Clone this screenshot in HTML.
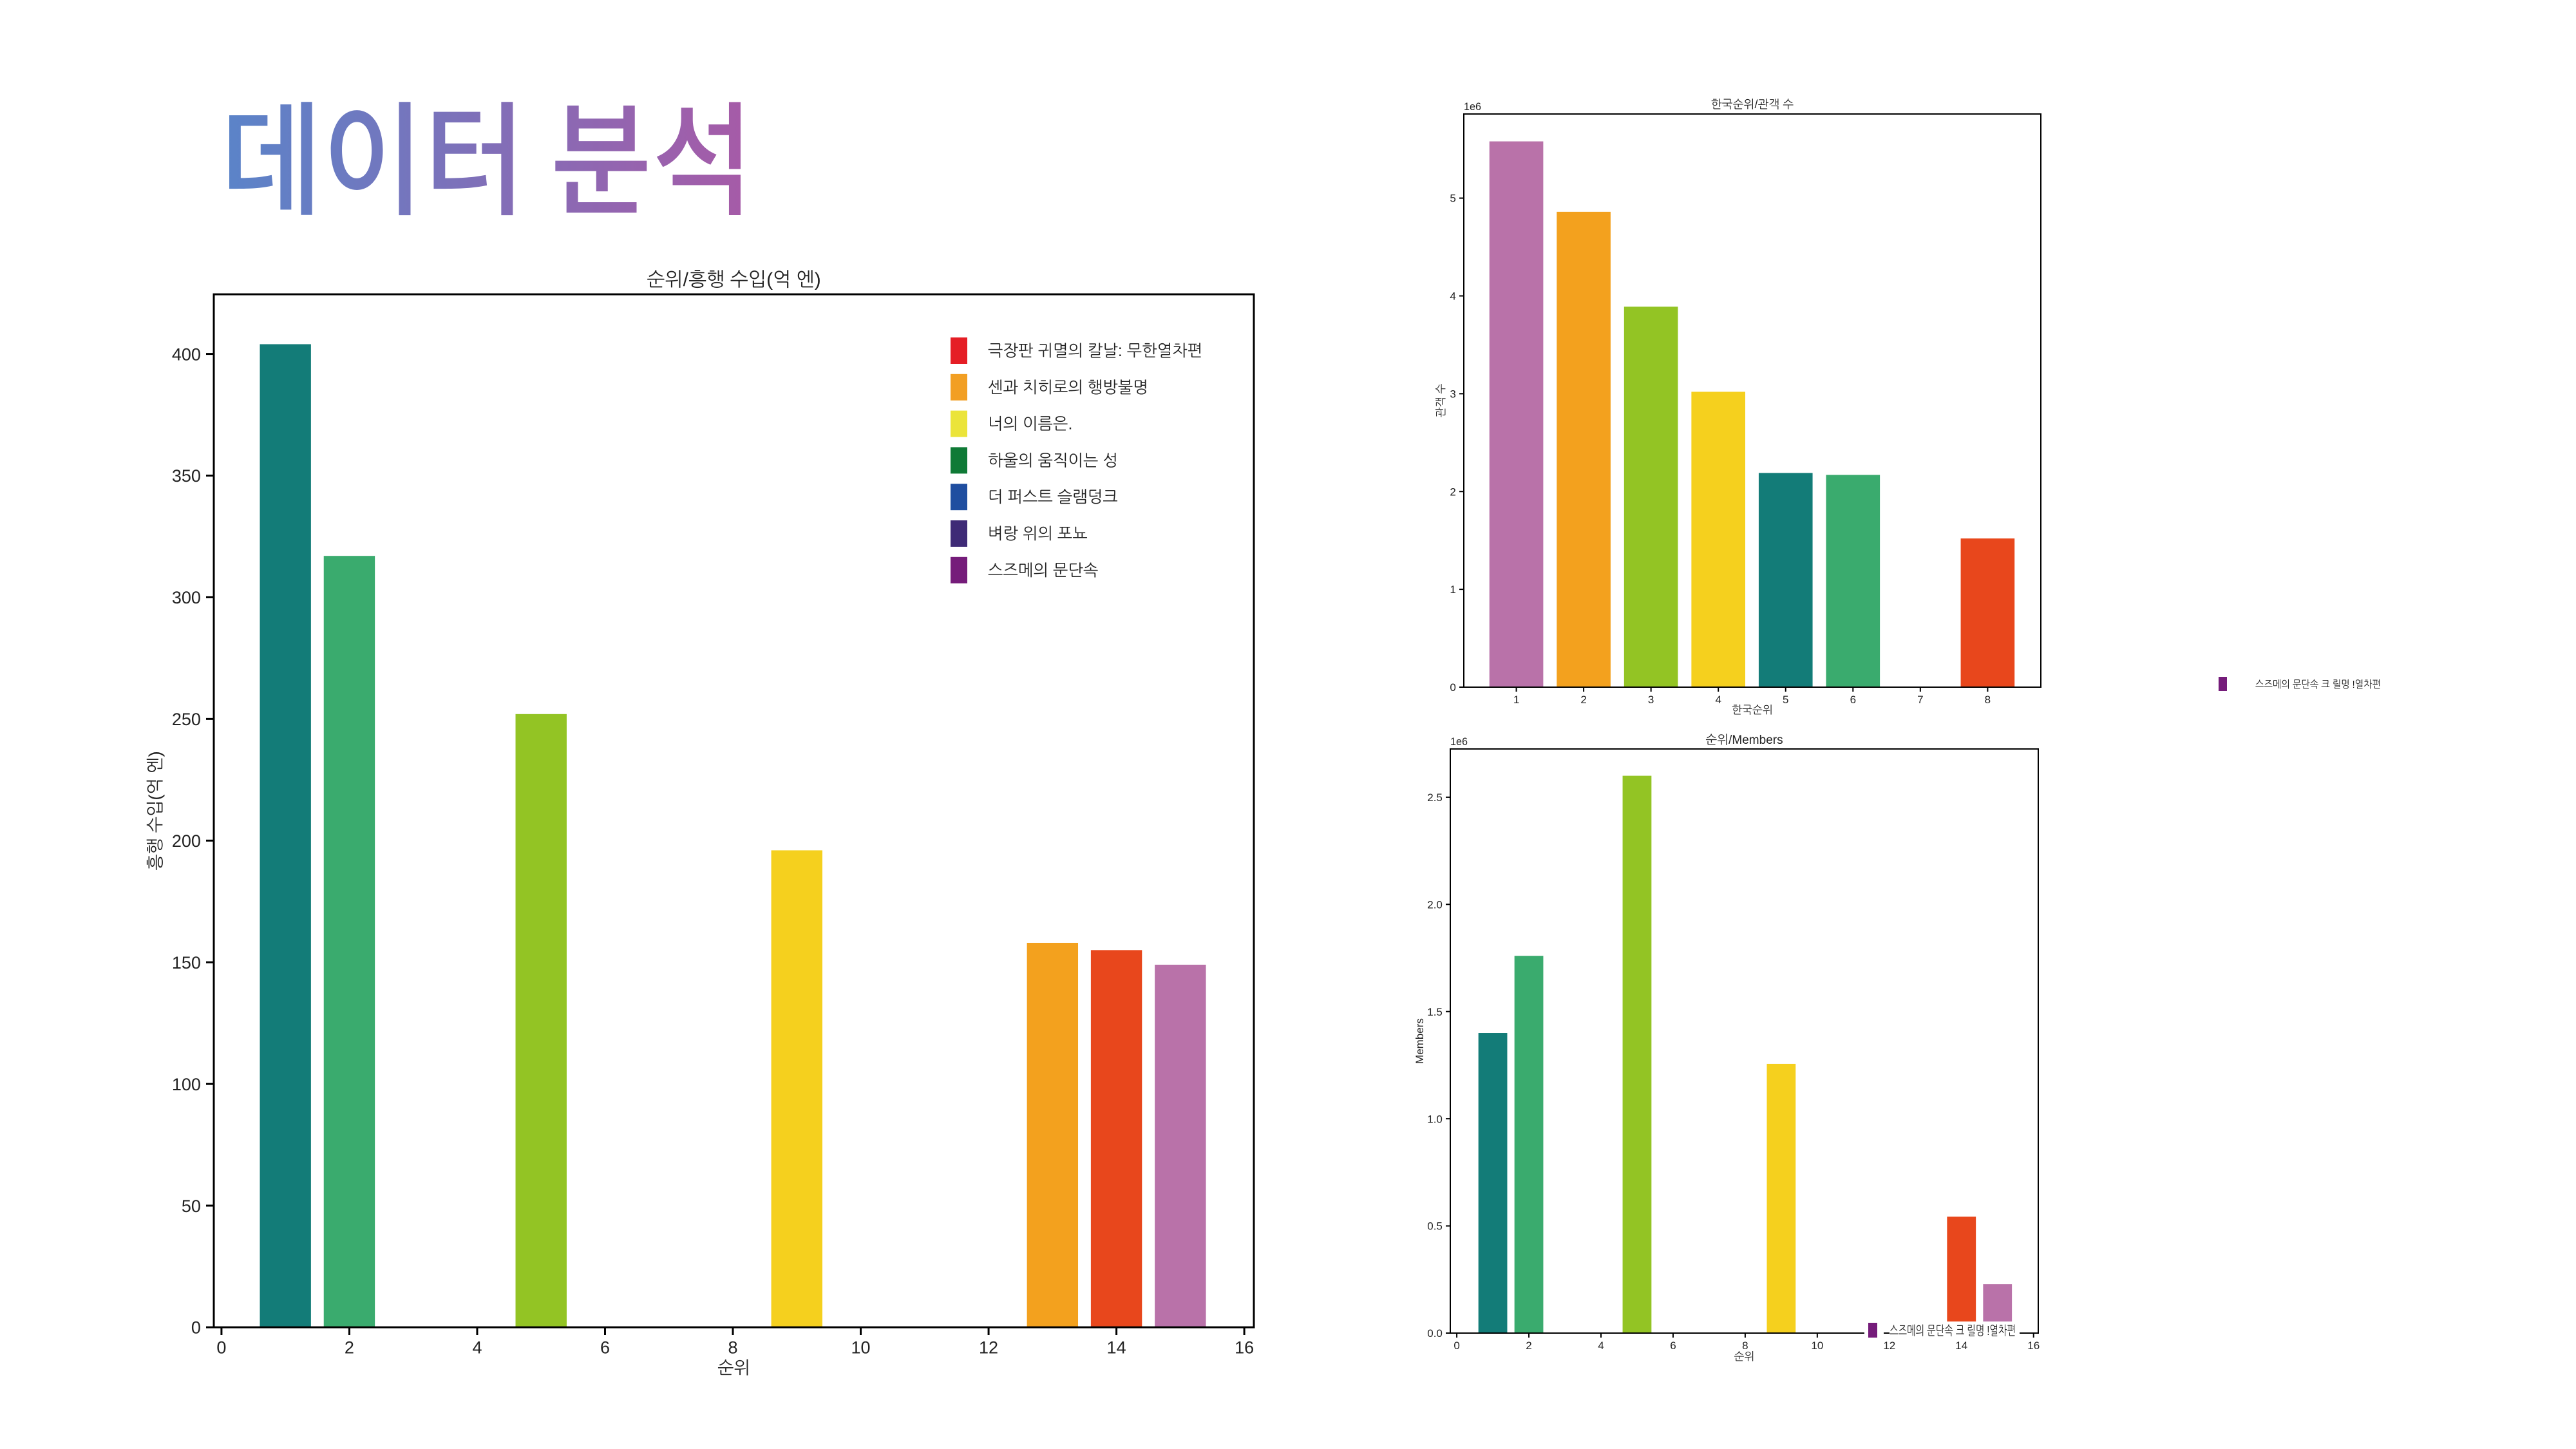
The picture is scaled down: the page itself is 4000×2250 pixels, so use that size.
<!DOCTYPE html>
<html><head><meta charset="utf-8"><style>
html,body{margin:0;padding:0;background:#fff;}
svg{display:block;font-family:"Liberation Sans","NanumGothic","Noto Sans CJK KR",sans-serif;}
</style></head><body>
<svg id="root" width="4000" height="2250" viewBox="0 0 4000 2250" xmlns="http://www.w3.org/2000/svg">
<defs><linearGradient id="tg" x1="0" x2="1" y1="0" y2="0"><stop offset="0" stop-color="#5a84c9"/><stop offset="1" stop-color="#a75aa7"/></linearGradient></defs>
<rect width="4000" height="2250" fill="#fff"/>
<text x="343" y="318" font-size="192" font-weight="500" fill="url(#tg)" textLength="827" lengthAdjust="spacingAndGlyphs" style="font-family:'Noto Sans CJK KR','NanumGothic',sans-serif">데이터 분석</text>
<g id="c1"></g>
<g id="c2"></g>
<g id="c3"></g>
</svg>
<script>
// Chart 1: 순위 / 흥행 수입
const c1Ranks = [1, 2, 5, 9, 13, 14, 15];
const c1Values = [404, 317, 252, 196, 158, 155, 149];
const c1Colors = ['#137c78', '#3aab6e', '#93c424', '#f5d01e', '#f3a11e', '#e8471c', '#b972a9'];
const c1XTicks = [0, 2, 4, 6, 8, 10, 12, 14, 16];
const c1YTicks = [0, 50, 100, 150, 200, 250, 300, 350, 400];
const c1LegendLabels = ['극장판 귀멸의 칼날: 무한열차편', '센과 치히로의 행방불명', '너의 이름은.', '하울의 움직이는 성', '더 퍼스트 슬램덩크', '벼랑 위의 포뇨', '스즈메의 문단속'];
const c1LegendColors = ['#e51e25', '#f29f23', '#ebe43a', '#0f7a36', '#1f4ea0', '#3e2a76', '#751c7a'];

// Chart 2: 한국순위 / 관객 수 (x1e6)
const c2Ranks = [1, 2, 3, 4, 5, 6, 7, 8];
const c2Values = [5.58, 4.86, 3.89, 3.02, 2.19, 2.17, 0, 1.52];
const c2Colors = ['#b972a9', '#f3a11e', '#93c424', '#f5d01e', '#137c78', '#3aab6e', '#751c7a', '#e8471c'];
const c2XTicks = [1, 2, 3, 4, 5, 6, 7, 8];
const c2YTicks = [0, 1, 2, 3, 4, 5];

// Chart 3: 순위 / Members (x1e6)
const c3Ranks = [1, 2, 5, 9, 14, 15];
const c3Values = [1.40, 1.76, 2.60, 1.256, 0.543, 0.228];
const c3Colors = ['#137c78', '#3aab6e', '#93c424', '#f5d01e', '#e8471c', '#b972a9'];
const c3XTicks = [0, 2, 4, 6, 8, 10, 12, 14, 16];
const c3YTicks = [0, 0.5, 1.0, 1.5, 2.0, 2.5];
const c3YTickLabels = ['0.0', '0.5', '1.0', '1.5', '2.0', '2.5'];

const NS = 'http://www.w3.org/2000/svg';
function mk(parent, tag, attrs, txt) {
  const e = document.createElementNS(NS, tag);
  for (const k in attrs) e.setAttribute(k, attrs[k]);
  if (txt !== undefined) e.textContent = txt;
  parent.appendChild(e);
  return e;
}
function chart(g, o) {
  const sx = v => o.L + (v - o.x0) / (o.x1 - o.x0) * (o.R - o.L);
  const sy = v => o.B - (v - o.y0) / (o.y1 - o.y0) * (o.B - o.T);
  o.ranks.forEach((r, i) => {
    if (o.values[i] <= 0) return;
    const x = sx(r - 0.4), w = sx(r + 0.4) - x;
    const rc = mk(g, 'rect', {x: x, y: sy(o.values[i]), width: w, height: sy(0) - sy(o.values[i]), fill: o.colors[i]});
    
    
  });
  const frame = mk(g, 'rect', {x: o.L, y: o.T, width: o.R - o.L, height: o.B - o.T, fill: 'none', stroke: '#000', 'stroke-width': o.sw});
  
  
  o.xt.forEach((v, i) => {
    const x = sx(v);
    const tk = mk(g, 'line', {x1: x, x2: x, y1: o.B, y2: o.B + o.tl, stroke: '#000', 'stroke-width': o.sw});
    
    
    const t = mk(g, 'text', {x: x, y: o.B + o.tl + o.fs * 1.05, 'font-size': o.fs, 'text-anchor': 'middle', fill: '#222'}, String(v));
    
    
  });
  o.yt.forEach((v, i) => {
    const y = sy(v);
    const tk = mk(g, 'line', {x1: o.L - o.tl, x2: o.L, y1: y, y2: y, stroke: '#000', 'stroke-width': o.sw});
    
    
    const t = mk(g, 'text', {x: o.L - o.tl - o.fs * 0.3, y: y + o.fs * 0.36, 'font-size': o.fs, 'text-anchor': 'end', fill: '#222'}, o.ytl ? o.ytl[i] : String(v));
    
    
  });
  const tt = mk(g, 'text', {x: (o.L + o.R) / 2, y: o.titleY, 'font-size': o.tfs, 'text-anchor': 'middle', fill: '#222'}, o.title);
  
  
  const xl = mk(g, 'text', {x: (o.L + o.R) / 2, y: o.xlY, 'font-size': o.fs, 'text-anchor': 'middle', fill: '#222'}, o.xlabel);
  
  
  const yc = (o.T + o.B) / 2;
  const yl = mk(g, 'text', {x: o.ylX, y: yc, 'font-size': o.fs, 'text-anchor': 'middle', fill: '#222', transform: 'rotate(-90 ' + o.ylX + ' ' + yc + ')'}, o.ylabel);
  
  
  if (o.off) {
    const of = mk(g, 'text', {x: o.L, y: o.T - 6, 'font-size': o.fs * 0.95, fill: '#222'}, '1e6');
    
    
  }
  return {sx, sy};
}

const g1 = document.getElementById('c1');
chart(g1, {L: 332, R: 1947, T: 457, B: 2061, x0: -0.12, x1: 16.15, y0: 0, y1: 424.5,
  ranks: c1Ranks, values: c1Values, colors: c1Colors, xt: c1XTicks, yt: c1YTicks,
  sw: 3, tl: 12, fs: 27, tfs: 30, title: '순위/흥행 수입(억 엔)', titleY: 444, xlabel: '순위', xlY: 2133,
  ylabel: '흥행 수입(억 엔)', ylX: 250});
c1LegendLabels.forEach((lab, i) => {
  const y = 544 + i * 56.8;
  const s = mk(g1, 'rect', {x: 1476, y: y - 20, width: 26, height: 41, fill: c1LegendColors[i]});
  
  
  const t = mk(g1, 'text', {x: 1534, y: y + 9, 'font-size': 25, fill: '#222'}, lab);
  
  
});

const g2 = document.getElementById('c2');
chart(g2, {L: 2273, R: 3169, T: 177, B: 1067, x0: 0.22, x1: 8.79, y0: 0, y1: 5.86,
  ranks: c2Ranks, values: c2Values, colors: c2Colors, xt: c2XTicks, yt: c2YTicks,
  sw: 2, tl: 7, fs: 17, tfs: 18, title: '한국순위/관객 수', titleY: 168, xlabel: '한국순위', xlY: 1108,
  ylabel: '관객 수', ylX: 2243, off: true});
const lg2s = mk(g2, 'rect', {x: 3445, y: 1051, width: 13, height: 22, fill: '#751c7a'});


const lg2t = mk(g2, 'text', {x: 3502, y: 1068, 'font-size': 16, fill: '#222', textLength: 195, lengthAdjust: 'spacingAndGlyphs'}, '스즈메의 문단속 크 릴명 !열차편');



const g3 = document.getElementById('c3');
chart(g3, {L: 2252, R: 3165, T: 1163, B: 2070, x0: -0.18, x1: 16.13, y0: 0, y1: 2.725,
  ranks: c3Ranks, values: c3Values, colors: c3Colors, xt: c3XTicks, yt: c3YTicks, ytl: c3YTickLabels,
  sw: 2, tl: 7, fs: 17, tfs: 19, title: '순위/Members', titleY: 1155, xlabel: '순위', xlY: 2112,
  ylabel: 'Members', ylX: 2210, off: true});
const lg3b = mk(g3, 'rect', {x: 2895, y: 2052, width: 241, height: 30, fill: '#fff'});


const lg3l = mk(g3, 'line', {x1: 2925, x2: 2934, y1: 2070, y2: 2070, stroke: '#000', 'stroke-width': 2});


const lg3s = mk(g3, 'rect', {x: 2901, y: 2054, width: 14, height: 23, fill: '#751c7a'});


const lg3t = mk(g3, 'text', {x: 2934, y: 2073, 'font-size': 20, fill: '#222', textLength: 196, lengthAdjust: 'spacingAndGlyphs'}, '스즈메의 문단속 크 릴명 !열차편');


</script>
</body></html>
